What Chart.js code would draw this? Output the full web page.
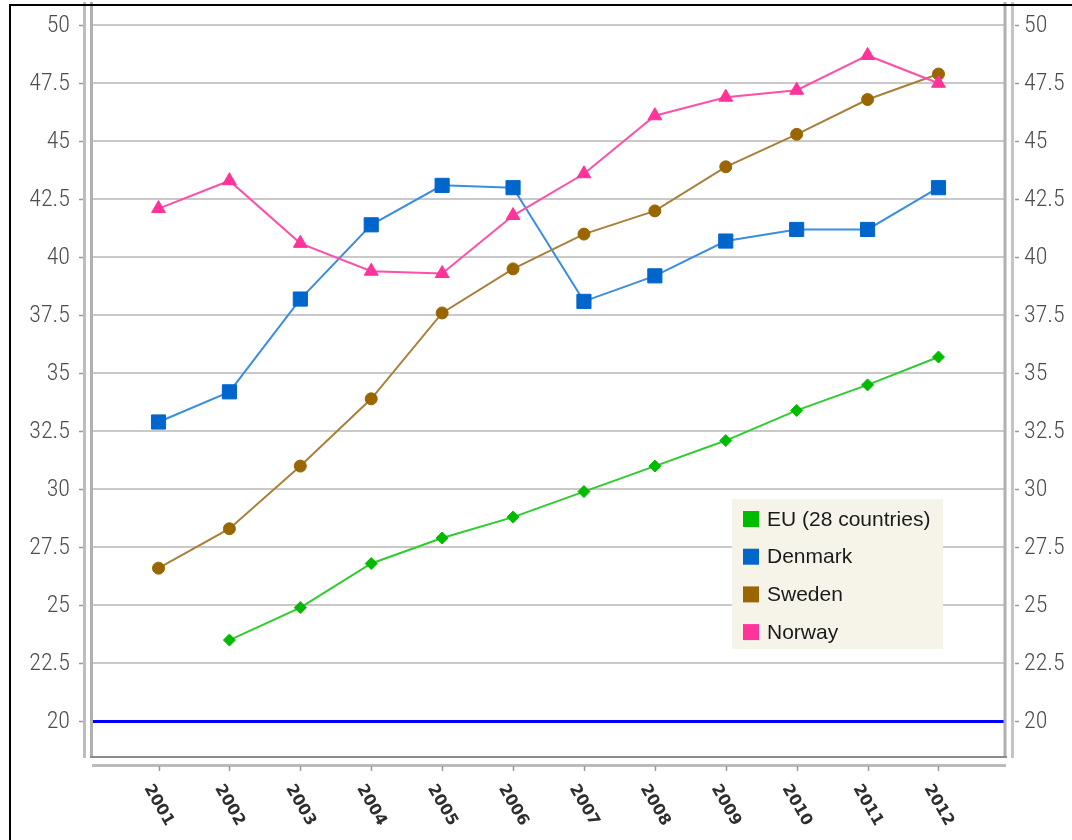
<!DOCTYPE html>
<html>
<head>
<meta charset="utf-8">
<script src="https://cdn.jsdelivr.net/npm/chart.js@4.4.1/dist/chart.umd.min.js"></script>
<style>
  html, body { margin: 0; padding: 0; background: #ffffff; }
  #wrap { position: relative; width: 1072px; height: 840px; overflow: hidden; }
  #frame { position: absolute; left: 9px; top: 4px; right: -4px; bottom: -4px;
           border-left: 2px solid #000; border-top: 2px solid #000; pointer-events: none; }
  canvas { position: absolute; left: 0; top: 0; }
</style>
</head>
<body>
<div id="wrap">
  <canvas id="c" width="1072" height="840"></canvas>
  <div id="frame"></div>
</div>
<script>
// ---------- data ----------
const years = [2001, 2002, 2003, 2004, 2005, 2006, 2007, 2008, 2009, 2010, 2011, 2012];
const seriesNames = ['EU (28 countries)', 'Denmark', 'Sweden', 'Norway'];
const euValues      = [null, 23.5, 24.9, 26.8, 27.9, 28.8, 29.9, 31.0, 32.1, 33.4, 34.5, 35.7];
const denmarkValues = [32.9, 34.2, 38.2, 41.4, 43.1, 43.0, 38.1, 39.2, 40.7, 41.2, 41.2, 43.0];
const swedenValues  = [26.6, 28.3, 31.0, 33.9, 37.6, 39.5, 41.0, 42.0, 43.9, 45.3, 46.8, 47.9];
const norwayValues  = [42.1, 43.3, 40.6, 39.4, 39.3, 41.8, 43.6, 46.1, 46.9, 47.2, 48.7, 47.5];
const yTickValues = [20, 22.5, 25, 27.5, 30, 32.5, 35, 37.5, 40, 42.5, 45, 47.5, 50];
const targetValue = 20;

// ---------- styling ----------
const Y_MIN = 18.46, Y_MAX = 50.918;
const X_MIN = 2000.062, X_MAX = 2012.938;
const markerColors = ['#00bb00', '#0066cc', '#996600', '#ff3399'];
const lineColors   = ['#2ecc2e', '#3b8de0', '#a9803a', '#ff4fa8'];
const pointStyles  = ['rectRot', 'rect', 'circle', 'triangle'];
const pointRadii   = [6, 10, 6, 8];
const valueSets = [euValues, denmarkValues, swedenValues, norwayValues];
const drawOrder = [3, 2, 1, 0];
const yLabelFont = '300 24px "Roboto Condensed", "Liberation Sans Narrow", "Roboto", sans-serif';

const datasets = valueSets.map((vals, i) => ({
  label: seriesNames[i],
  data: years.map((yr, j) => ({ x: yr, y: vals[j] })),
  borderColor: lineColors[i],
  backgroundColor: markerColors[i],
  pointBackgroundColor: markerColors[i],
  pointBorderColor: markerColors[i],
  pointBorderWidth: 1,
  pointStyle: pointStyles[i],
  pointRadius: pointRadii[i],
  borderWidth: 2,
  tension: 0,
  order: drawOrder[i],
  yAxisID: 'y'
}));

const framePlugin = {
  id: 'frame3d',
  beforeDatasetsDraw(chart) {
    const { ctx, chartArea: a, scales } = chart;
    const ys = scales.y, xs = scales.x;
    ctx.save();
    // target line
    const ty = Math.round(ys.getPixelForValue(targetValue)) + 0.5;
    ctx.strokeStyle = '#0000ff';
    ctx.lineWidth = 3;
    ctx.beginPath(); ctx.moveTo(a.left, ty); ctx.lineTo(a.right, ty); ctx.stroke();
    // vertical frame lines
    const vline = (x, col, w) => {
      ctx.strokeStyle = col; ctx.lineWidth = w;
      ctx.beginPath(); ctx.moveTo(x, a.top - 2); ctx.lineTo(x, a.bottom + 1); ctx.stroke();
    };
    vline(a.left - 7.5, '#bdbdbd', 3);
    vline(a.left - 0.5, '#b0b0b0', 3);
    vline(a.right, '#b0b0b0', 3);
    vline(a.right + 7.5, '#c4c4c4', 3);
    // bottom plot line
    ctx.strokeStyle = '#8c8c8c'; ctx.lineWidth = 2;
    ctx.beginPath(); ctx.moveTo(a.left - 2, a.bottom); ctx.lineTo(a.right + 2, a.bottom); ctx.stroke();
    // x axis line
    ctx.strokeStyle = '#bbbbbb'; ctx.lineWidth = 3;
    ctx.beginPath(); ctx.moveTo(a.left, a.bottom + 8.5); ctx.lineTo(a.right + 1, a.bottom + 8.5); ctx.stroke();
    // x ticks
    ctx.strokeStyle = '#999999'; ctx.lineWidth = 1.5;
    years.forEach(yr => {
      const x = Math.round(xs.getPixelForValue(yr)) + 0.5;
      ctx.beginPath(); ctx.moveTo(x, a.bottom + 9); ctx.lineTo(x, a.bottom + 14); ctx.stroke();
    });
    // y ticks both sides
    ctx.lineWidth = 1.5;
    yTickValues.forEach(v => {
      const y = Math.round(ys.getPixelForValue(v)) + 0.5;
      ctx.beginPath(); ctx.moveTo(a.left - 13, y); ctx.lineTo(a.left - 9, y); ctx.stroke();
      ctx.beginPath(); ctx.moveTo(a.right + 10, y); ctx.lineTo(a.right + 14, y); ctx.stroke();
    });
    ctx.restore();
  },
  afterDraw(chart) {
    const { ctx, chartArea: a, scales } = chart;
    const xs = scales.x, ys = scales.y;
    ctx.save();
    // y labels (both sides)
    ctx.font = yLabelFont;
    ctx.fillStyle = '#4d4d4d';
    ctx.textBaseline = 'middle';
    yTickValues.forEach(v => {
      const y = ys.getPixelForValue(v) + 1;
      ctx.textAlign = 'right';
      ctx.fillText(String(v), a.left - 22, y);
      ctx.textAlign = 'left';
      ctx.fillText(String(v), a.right + 19, y);
    });
    // rotated x labels
    ctx.font = 'bold 16px "DejaVu Sans"';
    ctx.fillStyle = '#2e2e2e';
    ctx.textAlign = 'left';
    ctx.textBaseline = 'middle';
    years.forEach(yr => {
      const x = xs.getPixelForValue(yr);
      ctx.save();
      ctx.translate(x - 11, a.bottom + 29);
      ctx.rotate(Math.PI / 3);
      ctx.fillText(String(yr), 0, 0);
      ctx.restore();
    });
    // legend box
    const box = { x: 732, y: 499, w: 211, h: 150 };
    ctx.fillStyle = '#f6f4e8';
    ctx.fillRect(box.x, box.y, box.w, box.h);
    ctx.font = '21px "Liberation Sans", Arial, sans-serif';
    ctx.textBaseline = 'middle';
    chart.data.datasets.forEach((ds, i) => {
      const cy = box.y + 20 + i * 37.7;
      ctx.fillStyle = markerColors[i];
      ctx.fillRect(box.x + 11, cy - 8, 16, 16);
      ctx.fillStyle = '#1a1a1a';
      ctx.fillText(ds.label, box.x + 35, cy + 1);
    });
    ctx.restore();
  }
};

const fixTicks = (scale) => { scale.ticks = yTickValues.map(v => ({ value: v })); };

new Chart(document.getElementById('c'), {
  type: 'line',
  data: { datasets },
  plugins: [framePlugin],
  options: {
    responsive: false,
    animation: false,
    devicePixelRatio: 1,
    layout: { autoPadding: false, padding: { top: 4, left: 0, right: 0, bottom: 0 } },
    plugins: { legend: { display: false }, tooltip: { enabled: false } },
    scales: {
      x: {
        type: 'linear',
        min: X_MIN, max: X_MAX,
        grid: { display: false },
        border: { display: false },
        ticks: { display: false },
        afterFit(s) { s.height = 83; s.paddingLeft = 0; s.paddingRight = 0; }
      },
      y: {
        type: 'linear', position: 'left',
        min: Y_MIN, max: Y_MAX,
        afterBuildTicks: fixTicks,
        grid: { color: '#c9c9c9', lineWidth: 2, drawTicks: false },
        border: { display: false },
        ticks: { display: false },
        afterFit(s) { s.width = 92; s.paddingTop = 0; s.paddingBottom = 0; }
      },
      y2: {
        type: 'linear', position: 'right',
        min: Y_MIN, max: Y_MAX,
        afterBuildTicks: fixTicks,
        grid: { display: false, drawTicks: false },
        border: { display: false },
        ticks: { display: false },
        afterFit(s) { s.width = 67; s.paddingTop = 0; s.paddingBottom = 0; }
      }
    }
  }
});
</script>
</body>
</html>
